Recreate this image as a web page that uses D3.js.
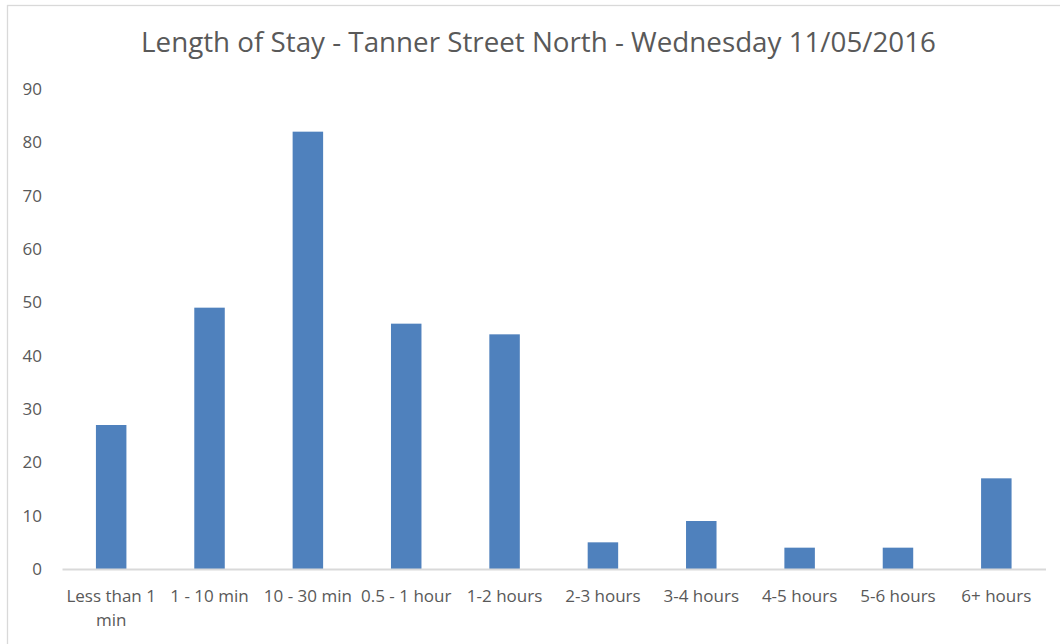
<!DOCTYPE html>
<html><head><meta charset="utf-8">
<script src="https://cdn.jsdelivr.net/npm/d3@7"></script>
<style>
html,body{margin:0;padding:0;background:#fff;}
svg{display:block;}
text{font-family:"Open Sans","Noto Sans",sans-serif;fill:#595959;}
</style></head>
<body>
<svg id="chart" width="1060" height="644"></svg>
<script>
const categories = ["Less than 1 min","1 - 10 min","10 - 30 min","0.5 - 1 hour","1-2 hours","2-3 hours","3-4 hours","4-5 hours","5-6 hours","6+ hours"];
const values = [27,49,82,46,44,5,9,4,4,17];
const yTicks = [0,10,20,30,40,50,60,70,80,90];
const title = "Length of Stay - Tanner Street North - Wednesday 11/05/2016";

const svg = d3.select("#chart");
svg.append("rect").attr("x",7.5).attr("y",5.5).attr("width",1100).attr("height",700)
  .attr("fill","#fff").attr("stroke","#d9d9d9").attr("stroke-width",1.3);

const x = d3.scaleBand().domain(categories).range([62,1045.5]).paddingInner(0.69).paddingOuter(0.345);
const y = d3.scaleLinear().domain([0,90]).range([569,89]);

const t = svg.append("text").attr("x",538.5).attr("y",52).attr("text-anchor","middle")
  .style("font-size","24px").text(title);
const tw = t.node().getComputedTextLength();
t.style("font-size",(24*795/tw).toFixed(2)+"px");

const ya = svg.append("g").attr("transform","translate(42,0)")
  .call(d3.axisLeft(y).tickValues(yTicks).tickSize(0).tickPadding(0));
ya.select(".domain").remove();
ya.attr("font-size",null).attr("font-family",null);
ya.selectAll("text").style("font-size","17px").attr("fill","#595959");

svg.append("g").selectAll("rect").data(values).join("rect")
  .attr("x",(d,i)=>x(categories[i])).attr("width",x.bandwidth())
  .attr("y",d=>y(d)).attr("height",d=>y(0)-y(d)).attr("fill","#4f81bd");

const xa = svg.append("g").attr("transform","translate(0,569)")
  .call(d3.axisBottom(x).tickSize(0).tickPadding(0));
xa.select(".domain").attr("stroke","#d9d9d9").attr("stroke-width",2);
xa.selectAll("text").remove();
const labs = svg.append("g");
categories.forEach(c=>{
  const cx = x(c)+x.bandwidth()/2;
  const lines = c==="Less than 1 min" ? ["Less than 1","min"] : [c];
  lines.forEach((ln,j)=>{
    labs.append("text").attr("x",cx).attr("y",602+j*24).attr("text-anchor","middle")
      .style("font-size","17px").text(ln);
  });
});
</script>
</body></html>
